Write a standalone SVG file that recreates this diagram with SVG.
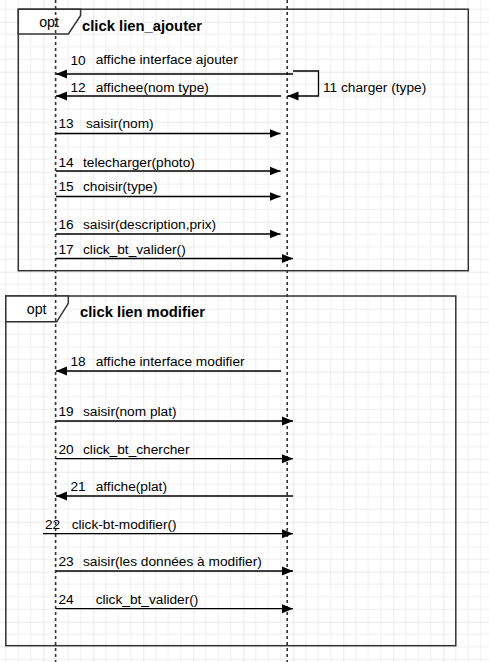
<svg xmlns="http://www.w3.org/2000/svg" width="489" height="662" viewBox="0 0 489 662">
<style>
  .t { font-family: "Liberation Sans", Arial, sans-serif; font-size: 13.7px; fill: #000; }
  .b { font-family: "Liberation Sans", Arial, sans-serif; font-size: 14.8px; font-weight: bold; fill: #000; }
  .o { font-family: "Liberation Sans", Arial, sans-serif; font-size: 14.2px; fill: #000; text-anchor: middle; }
  .frame { fill: none; stroke: #333; stroke-width: 1.5; }
  .tab { fill: #fff; stroke: #333; stroke-width: 1.5; }
  .life { stroke: #333; stroke-width: 1.6; stroke-dasharray: 3 3; fill: none; }
  .msg { stroke: #000; stroke-width: 1.3; fill: none; marker-end: url(#ah); }
  .self { stroke: #000; stroke-width: 1.3; fill: none; marker-end: url(#ah); }
</style>
<defs>
  <pattern id="grid" patternUnits="userSpaceOnUse" x="43.3" y="21.7" width="50" height="50">
    <path d="M12.5 0V50M25 0V50M37.5 0V50M0 12.5H50M0 25H50M0 37.5H50" stroke="#efefef" stroke-width="1"/>
    <path d="M0 0V50M0 0H50" stroke="#d6d6d6" stroke-width="1"/>
  </pattern>
  <marker id="ah" markerUnits="userSpaceOnUse" markerWidth="12" markerHeight="10" refX="11" refY="5" orient="auto">
    <path d="M0,0.5 L11,5 L0,9.5 z" fill="#000"/>
  </marker>
</defs>
<rect x="0" y="0" width="489" height="662" fill="#fff"/>
<rect x="0" y="0" width="489" height="662" fill="url(#grid)"/>

<g id="frame1">
  <rect class="frame" x="18.3" y="9.2" width="450" height="261.5"/>
  <path class="tab" d="M18.3 9.2H80.6V15.5L68.4 34H18.3Z"/>
  <text class="o" x="49" y="26.7">opt</text>
  <text class="b" x="82" y="30.7">click lien_ajouter</text>
</g>
<g id="frame2">
  <rect class="frame" x="5.8" y="296" width="450" height="349.7"/>
  <path class="tab" d="M5.8 296H68.3V303.3L56.7 321.8H5.8Z"/>
  <text class="o" x="36.7" y="314">opt</text>
  <text class="b" x="80" y="317.3">click lien modifier</text>
</g>

<g id="lifelines">
  <line class="life" x1="55.6" y1="0" x2="55.6" y2="662"/>
  <line class="life" x1="287.2" y1="0" x2="287.2" y2="662"/>
</g>

<g id="connectors">
  <line class="msg" x1="293" y1="74" x2="56" y2="74"/>
  <path class="self" d="M293 71H318.5V96H287.5"/>
  <line class="msg" x1="281" y1="96" x2="56" y2="96"/>
  <line class="msg" x1="56" y1="133.5" x2="280.5" y2="133.5"/>
  <line class="msg" x1="56" y1="171" x2="280.5" y2="171"/>
  <line class="msg" x1="56" y1="196.5" x2="280.5" y2="196.5"/>
  <line class="msg" x1="56" y1="234" x2="280.5" y2="234"/>
  <line class="msg" x1="56" y1="258.5" x2="293" y2="258.5"/>
  <line class="msg" x1="281" y1="371" x2="56" y2="371"/>
  <line class="msg" x1="56" y1="421" x2="293" y2="421"/>
  <line class="msg" x1="56" y1="458.7" x2="293" y2="458.7"/>
  <line class="msg" x1="293" y1="496" x2="56" y2="496"/>
  <line class="msg" x1="43" y1="533.7" x2="293" y2="533.7"/>
  <line class="msg" x1="56" y1="571" x2="293" y2="571"/>
  <line class="msg" x1="56" y1="608.7" x2="293" y2="608.7"/>
</g>

<g id="labels">
  <text class="t" x="70.5" y="65">10</text>
  <text class="t" x="95.7" y="64">affiche interface ajouter</text>
  <text class="t" x="323" y="92">11 charger (type)</text>
  <text class="t" x="70.5" y="91.5">12</text>
  <text class="t" x="95.7" y="91.5">affichee(nom type)</text>
  <text class="t" x="58.5" y="128">13</text>
  <text class="t" x="86" y="128">saisir(nom)</text>
  <text class="t" x="58.5" y="166.5">14</text>
  <text class="t" x="83" y="166.5">telecharger(photo)</text>
  <text class="t" x="58.5" y="191">15</text>
  <text class="t" x="83" y="191">choisir(type)</text>
  <text class="t" x="58.5" y="228.5">16</text>
  <text class="t" x="83" y="228.5">saisir(description,prix)</text>
  <text class="t" x="58.5" y="253.5">17</text>
  <text class="t" x="83" y="253.5">click_bt_valider()</text>
  <text class="t" x="70.5" y="366">18</text>
  <text class="t" x="95.7" y="366">affiche interface modifier</text>
  <text class="t" x="58.5" y="416">19</text>
  <text class="t" x="83" y="416">saisir(nom plat)</text>
  <text class="t" x="58.5" y="453.5">20</text>
  <text class="t" x="83" y="453.5">click_bt_chercher</text>
  <text class="t" x="70.5" y="490.5">21</text>
  <text class="t" x="95.7" y="490.5">affiche(plat)</text>
  <text class="t" x="45" y="528.5">22</text>
  <text class="t" x="71.7" y="528.5">click-bt-modifier()</text>
  <text class="t" x="58.5" y="566">23</text>
  <text class="t" x="83" y="566">saisir(les données à modifier)</text>
  <text class="t" x="58.5" y="603.5">24</text>
  <text class="t" x="95.7" y="603.5">click_bt_valider()</text>
</g>
</svg>
